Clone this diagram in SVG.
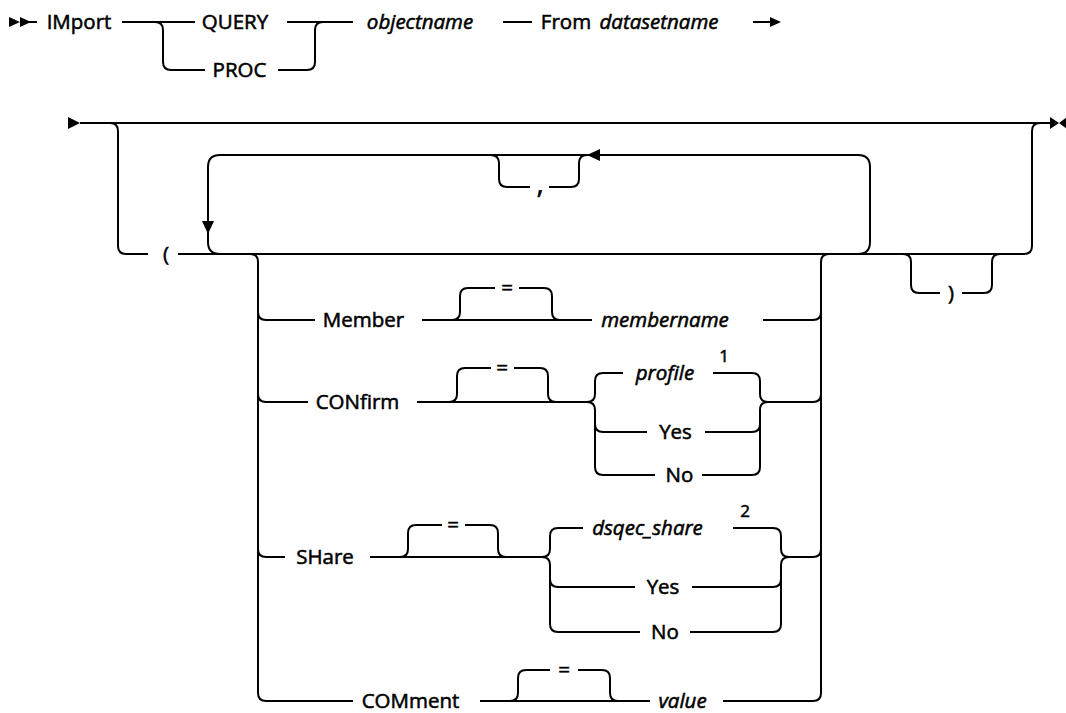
<svg xmlns="http://www.w3.org/2000/svg" width="1066" height="713" viewBox="0 0 1066 713">
<style>
.c{fill:none;stroke:#000;stroke-width:2;}
.a{fill:#000;stroke:none;}
text{font-family:"Open Sans","Liberation Sans",sans-serif;font-size:20.5px;fill:#000;stroke:#000;stroke-width:0.55;text-anchor:middle;}
.i{font-style:italic;}
.s{font-size:17px;}
.p{font-size:28px;}
</style>
<rect width="1066" height="713" fill="#fff"/>
<g id="connectors">
<!-- row 1 -->
<path class="a" d="M9,17 L20,22 L9,27 Z M20,17 L31,22 L20,27 Z"/>
<path class="c" d="M20,22 H37"/>
<path class="c" d="M122,22 H195 M287,22 H353"/>
<path class="c" d="M155,22 Q163,22 163,30 V62 Q163,70 171,70 H205 M278,70 H307 Q315,70 315,62 V30 Q315,22 323,22"/>
<path class="c" d="M503,22 H532 M753,22 H771"/>
<path class="a" d="M770,17 L781,22 L770,27 Z"/>
<!-- row 2 main -->
<path class="a" d="M68,117 L80,123 L68,129 Z"/>
<path class="c" d="M80,123 H1050"/>
<path class="a" d="M1050,117 L1059,123 L1050,129 Z M1067,117 L1059,123 L1067,129 Z"/>
<path class="c" d="M110,123 Q118,123 118,131 V246 Q118,254 126,254 H148"/>
<path class="c" d="M178,254 H1024 Q1032,254 1032,246 V131 Q1032,123 1040,123"/>
<!-- repeat loop -->
<path class="c" d="M858,254 Q870,254 870,242 V167 Q870,155 858,155 H220 Q208,155 208,167 V242 Q208,254 220,254"/>
<path class="a" d="M202,221 L214,221 L208,234 Z"/>
<path class="c" d="M490,155 Q499,155 499,163 V179 Q499,187 507,187 H530 M549,187 H571 Q579,187 579,179 V163 Q579,155 587,155"/>
<path class="a" d="M600,149 L587,155 L600,161 Z"/>
<!-- close paren -->
<path class="c" d="M903,254 Q911,254 911,262 V285 Q911,293 919,293 H940 M962,293 H984 Q992,293 992,285 V262 Q992,254 1000,254"/>
<!-- option rails -->
<path class="c" d="M250,254 Q258,254 258,262 V693 Q258,701 266,701 H353"/>
<path class="c" d="M829,254 Q821,254 821,262 V693 Q821,701 813,701 H723"/>
<!-- Member -->
<path class="c" d="M258,312 Q258,320 266,320 H315 M422,320 H592 M763,320 H813 Q821,320 821,312"/>
<path class="c" d="M452,320 Q460,320 460,312 V296 Q460,288 468,288 H495 M519,288 H544 Q552,288 552,296 V312 Q552,320 560,320"/>
<!-- CONfirm -->
<path class="c" d="M258,394 Q258,402 266,402 H308 M417,402 H587"/>
<path class="c" d="M449,402 Q457,402 457,394 V376 Q457,368 465,368 H491 M514,368 H540 Q548,368 548,376 V394 Q548,402 556,402"/>
<path class="c" d="M587,402 Q595,402 595,394 V381 Q595,373 603,373 H623 M587,402 Q595,402 595,410 V467 Q595,475 603,475 H655 M595,424 Q595,432 603,432 H647"/>
<path class="c" d="M713,373 H752 Q760,373 760,381 V394 Q760,402 768,402 H813 Q821,402 821,394 M705,432 H752 Q760,432 760,424 M702,475 H752 Q760,475 760,467 V410 Q760,402 768,402"/>
<!-- SHare -->
<path class="c" d="M258,549 Q258,557 266,557 H285 M370,557 H542"/>
<path class="c" d="M400,557 Q408,557 408,549 V533 Q408,525 416,525 H442 M465,525 H490 Q498,525 498,533 V549 Q498,557 506,557"/>
<path class="c" d="M542,557 Q550,557 550,549 V536 Q550,528 558,528 H583 M542,557 Q550,557 550,565 V624 Q550,632 558,632 H640 M550,579 Q550,587 558,587 H635"/>
<path class="c" d="M733,528 H773 Q781,528 781,536 V549 Q781,557 789,557 H813 Q821,557 821,549 M692,587 H773 Q781,587 781,579 M690,632 H773 Q781,632 781,624 V565 Q781,557 789,557"/>
<!-- COMment -->
<path class="c" d="M480,701 H650"/>
<path class="c" d="M510,701 Q518,701 518,693 V678 Q518,670 526,670 H550 M578,670 H602 Q610,670 610,678 V693 Q610,701 618,701"/>
</g>
<g id="n-import"><text x="79" y="29">IMport</text></g>
<g id="n-query"><text x="235" y="29">QUERY</text></g>
<g id="n-proc"><text x="239.5" y="77">PROC</text></g>
<g id="n-objectname"><text class="i" x="420" y="29">objectname</text></g>
<g id="n-from"><text x="566" y="29">From</text><text class="i" x="659" y="29">datasetname</text></g>
<g id="n-lparen"><text x="166" y="261">(</text></g>
<g id="n-comma"><text class="p" x="540" y="193">,</text></g>
<g id="n-rparen"><text x="951" y="300">)</text></g>
<g id="n-member"><text x="363.5" y="327">Member</text></g>
<g id="n-member-eq"><text x="507" y="295">=</text></g>
<g id="n-membername"><text class="i" x="665" y="327">membername</text></g>
<g id="n-confirm"><text x="357.5" y="409">CONfirm</text></g>
<g id="n-confirm-eq"><text x="502" y="375">=</text></g>
<g id="n-profile"><text class="i" x="665" y="380">profile</text><text class="s" x="724" y="362">1</text></g>
<g id="n-confirm-yes"><text x="675.5" y="439">Yes</text></g>
<g id="n-confirm-no"><text x="679.5" y="482">No</text></g>
<g id="n-share"><text x="325" y="564">SHare</text></g>
<g id="n-share-eq"><text x="453" y="532">=</text></g>
<g id="n-dsqec"><text class="i" x="647.5" y="535">dsqec_share</text><text class="s" x="745" y="517">2</text></g>
<g id="n-share-yes"><text x="663" y="594">Yes</text></g>
<g id="n-share-no"><text x="665" y="639">No</text></g>
<g id="n-comment"><text x="410.5" y="708">COMment</text></g>
<g id="n-comment-eq"><text x="564" y="677">=</text></g>
<g id="n-value"><text class="i" x="682.5" y="708">value</text></g>
</svg>
